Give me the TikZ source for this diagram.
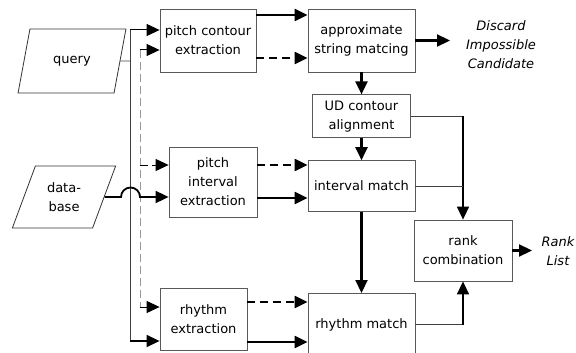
\documentclass[tikz,border=0pt]{standalone}
\usepackage{fontspec}
\setmainfont{DejaVu Sans}
\usetikzlibrary{positioning,shapes.geometric,arrows.meta}
\tikzstyle{Bloque}=[rectangle, draw=black!65, fill=white, line width=0.8pt, align=center, inner sep=1pt, font=\fontsize{13}{19}\selectfont]
\tikzstyle{Entrada}=[trapezium, trapezium left angle=65, trapezium right angle=115, trapezium stretches=true, draw=black!80, line width=0.8pt, align=center, inner sep=1pt, font=\fontsize{13}{19}\selectfont]
\tikzstyle{Salida}=[align=center, inner sep=1pt, font=\fontsize{13}{19}\selectfont\itshape]
\tikzstyle{Flecha}=[-{Triangle[length=13pt, width=12pt]}, line width=2.2pt]
\tikzstyle{FlechaDisc}=[Flecha, dash pattern=on 8pt off 5pt]
\tikzstyle{FlechaMedia}=[-{Triangle[length=13pt, width=12pt]}, line width=1.5pt]
\tikzstyle{FlechaFina}=[-{Triangle[length=13pt, width=12pt]}, line width=1pt]
\tikzstyle{Linea}=[line width=0.9pt, draw=black!75]
\tikzstyle{LineaGris}=[line width=1pt, draw=black!40, dash pattern=on 8pt off 4pt]

\begin{document}
\begin{tikzpicture}[x=1pt, y=-1pt]
			\useasboundingbox (0,0) rectangle (576,353);

			%Nodos
			\node[Entrada, minimum width=108pt, minimum height=64pt]	(query)		at (72,61)		{query};
			\node[Entrada, minimum width=104pt, minimum height=62pt]	(database)	at (64,197)		{data-\\base};

			\node[Bloque, minimum width=96pt, minimum height=63pt]	(pcext)		at (208,40.5)	{pitch contour\\extraction};
			\node[Bloque, minimum width=88pt, minimum height=70pt]	(piext)		at (213,182)	{pitch\\interval\\extraction};
			\node[Bloque, minimum width=87pt, minimum height=62pt]	(rext)		at (203.5,319)	{rhythm\\extraction};

			\node[Bloque, minimum width=107pt, minimum height=63pt]	(asm)		at (361.5,40.5)	{approximate\\string matcing};
			\node[Bloque, minimum width=98pt, minimum height=43pt]	(ud)		[below=22pt of asm]		{UD contour\\alignment};
			\node[Bloque, minimum width=107pt, minimum height=51pt]	(imatch)	[below=22pt of ud]		{interval match};
			\node[Bloque, minimum width=107pt, minimum height=63pt]	(rmatch)	[below=81pt of imatch]	{rhythm match};
			\node[Bloque, minimum width=98pt, minimum height=61pt]	(rank)		at (463,250.5)	{rank\\combination};

			\node[Salida]	(discard)	at (501,45)		{Discard\\Impossible\\Candidate};
			\node[Salida]	(ranklist)	at (558,251)	{Rank\\List};

			%Puntos de union
			\coordinate (qcodo)		at (130,61);
			\coordinate (qarriba)	at (130,30);
			\coordinate (qabajo)	at (130,341);
			\coordinate (darriba)	at (140,50);
			\coordinate (dmedio)	at (140,165);
			\coordinate (dabajo)	at (140,307);
			\coordinate (salto)		at (121,197);
			\coordinate (nivelA)	at (0,15);
			\coordinate (nivelB)	at (0,58);
			\coordinate (nivelC)	at (0,165);
			\coordinate (nivelD)	at (0,198);
			\coordinate (nivelE)	at (0,302);
			\coordinate (nivelF)	at (0,342);
			\coordinate (descartar)	at (450,0);
			\coordinate (listar)	at (532,0);

			%Lineas de entrada
			\draw[Linea] (query.east) -- (qcodo);
			\draw[Linea] (qarriba) -- (qabajo);
			\draw[FlechaFina] (qarriba) -- (qarriba -| pcext.west);
			\draw[FlechaMedia] (qabajo) -- (qabajo -| rext.west);
			\draw[LineaGris] (darriba) -- (dabajo);
			\draw[FlechaFina] (darriba) -- (darriba -| pcext.west);
			\draw[FlechaFina, dash pattern=on 8pt off 4pt] (dmedio) -- (dmedio -| piext.west);
			\draw[FlechaFina] (dabajo) -- (dabajo -| rext.west);
			\draw[Flecha, line width=1.8pt] (database.east) -- (salto) arc[start angle=180, end angle=0, radius=9.5pt] -- (salto -| piext.west);

			%Lineas entre bloques
			\draw[Flecha] (pcext.east |- nivelA) -- (asm.west |- nivelA);
			\draw[FlechaDisc] (pcext.east |- nivelB) -- (asm.west |- nivelB);
			\draw[FlechaDisc] (piext.east |- nivelC) -- (imatch.west |- nivelC);
			\draw[Flecha] (piext.east |- nivelD) -- (imatch.west |- nivelD);
			\draw[FlechaDisc] (rext.east |- nivelE) -- (rmatch.west |- nivelE);
			\draw[Flecha] (rext.east |- nivelF) -- (rmatch.west |- nivelF);

			\draw[Flecha] (asm.east) -- (asm.east -| descartar);
			\draw[Flecha] (asm.south) -- (asm.south |- ud.north);
			\draw[Flecha] (ud.south) -- (ud.south |- imatch.north);
			\draw[Flecha] (imatch.south) -- (imatch.south |- rmatch.north);

			%Combinacion
			\draw[Linea] (ud.east) -- (ud.east -| rank.north);
			\draw[FlechaMedia] (ud.east -| rank.north) -- (rank.north);
			\draw[Linea] (imatch.east) -- (imatch.east -| rank.north);
			\draw[Linea] (rmatch.east) -- (rmatch.east -| rank.south);
			\draw[FlechaMedia] (rmatch.east -| rank.south) -- (rank.south);
			\draw[Flecha] (rank.east) -- (rank.east -| listar);

		\end{tikzpicture}
\end{document}
